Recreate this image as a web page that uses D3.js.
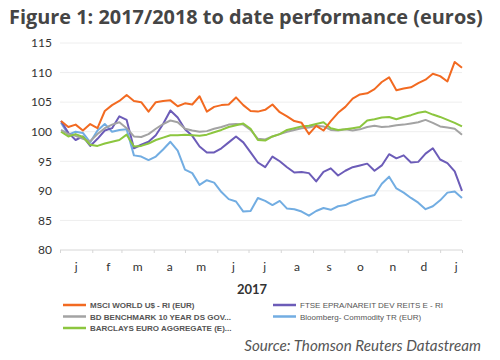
<!DOCTYPE html>
<html>
<head>
<meta charset="utf-8">
<script src="https://cdn.jsdelivr.net/npm/d3@7"></script>
<style>
  body { margin: 0; background: #fff; }
  svg { display: block; font-family: "Open Sans", "Liberation Sans", sans-serif; }
</style>
</head>
<body>
<svg id="chart" width="500" height="360"></svg>
<script>
  // weekly observations, first Monday of 2017 onwards
  var startDate = "2017-01-02";
  var nWeeks = 56;

  var msci = [101.8, 100.8, 101.2, 100.2, 101.3, 100.6, 103.5, 104.5, 105.2, 106.2,
    105.2, 105, 103.4, 105, 105.2, 105.3, 104.3, 104.8, 104.6, 106,
    103.4, 104.2, 104.5, 104.6, 105.8, 104.5, 103.5, 103.4, 103.7, 104.6,
    103.3, 102.6, 101.8, 101.5, 99.6, 101, 100.2, 101.8, 103.2, 104.2,
    105.6, 106.3, 106.5, 107.2, 108.4, 109.2, 107, 107.3, 107.5, 108.2,
    108.8, 109.8, 109.4, 108.5, 111.8, 110.8];

  var bdBench = [100.3, 99.6, 99.3, 98.8, 98.4, 99.6, 100.6, 101.2, 101.6, 100.6,
    99.2, 99.1, 99.6, 100.5, 101.3, 101.9, 101.6, 100.5, 100.2, 100,
    100.1, 100.5, 100.8, 101.2, 101.3, 101.2, 100.3, 98.8, 98.7, 99.2,
    99.6, 100, 100.3, 100.6, 100.7, 101, 100.9, 100.3, 100.2, 100.4,
    100.2, 100.4, 100.8, 101, 100.8, 100.9, 101.1, 101.2, 101.4, 101.6,
    102, 101.5, 100.9, 100.7, 100.5, 99.5];

  var barclays = [100, 99.2, 99.6, 99.1, 97.8, 97.6, 98, 98.3, 98.6, 99.5,
    97.5, 97.6, 98, 98.6, 99, 99.4, 99.4, 99.5, 99.4, 99.3,
    99.5, 99.9, 100.3, 100.8, 101.1, 101.4, 100.5, 98.6, 98.5, 99.2,
    99.6, 100.3, 100.6, 100.9, 101, 101.3, 101.6, 100.6, 100.3, 100.4,
    100.6, 100.8, 101.9, 102.1, 102.4, 102.5, 102.1, 102.5, 102.8, 103.2,
    103.4, 102.9, 102.5, 102, 101.5, 100.9];

  var ftse = [101.8, 99.8, 98.6, 99.2, 97.6, 98.8, 100.2, 100.6, 102.6, 102,
    97.2, 97.8, 98.3, 99.4, 101.3, 103.6, 102.4, 100.4, 99.3, 97.5,
    96.5, 96.5, 97.2, 98.2, 99.2, 98.2, 96.5, 94.8, 94, 95.8,
    95, 94, 93.1, 93.2, 93, 91.6, 93.2, 93.8, 92.6, 93.4,
    94, 94.3, 94.6, 93.4, 94.3, 96.2, 95.5, 96, 94.8, 94.9,
    96.3, 97.2, 95.3, 94.7, 93.3, 90];

  var bloomberg = [101.5, 99.5, 100, 99.8, 98.2, 100.2, 101.3, 100, 100.3, 100.4,
    96, 95.8, 95.2, 95.8, 97, 98.3, 96.8, 93.6, 93, 91,
    91.8, 91.4, 89.8, 88.6, 88.2, 86.5, 86.6, 88.8, 88.3, 87.6,
    88.3, 87, 86.9, 86.5, 85.8, 86.6, 87.1, 86.8, 87.4, 87.6,
    88.2, 88.6, 89, 89.3, 91.2, 92.4, 90.4, 89.7, 88.8, 88,
    86.9, 87.4, 88.4, 89.7, 89.9, 88.8];

  var seriesNames = ["MSCI WORLD U$ - RI (EUR)", "FTSE EPRA/NAREIT DEV REITS E - RI",
    "BD BENCHMARK 10 YEAR DS GOV...", "Bloomberg- Commodity TR (EUR)",
    "BARCLAYS EURO AGGREGATE (E)..."];
  var seriesValues = [msci, ftse, bdBench, bloomberg, barclays];
  var seriesColors = ["#f26a21", "#6c5cb8", "#a3a3a3", "#72ade2", "#8cc63f"];
  // draw order (back to front)
  var drawOrder = [3, 1, 2, 4, 0];

  var yTicks = [80, 85, 90, 95, 100, 105, 110, 115];
  var monthLetters = ["j", "f", "m", "a", "m", "j", "j", "a", "s", "o", "n", "d", "j"];

  var svg = d3.select("#chart");
  var parse = d3.timeParse("%Y-%m-%d");
  var d0 = parse(startDate);
  var dates = d3.range(nWeeks).map(function(i) { return d3.timeDay.offset(d0, 7 * i); });

  var x = d3.scaleTime().domain([parse("2017-01-01"), parse("2018-01-22")]).range([60, 462]);
  var y = d3.scaleLinear().domain([80, 115]).range([250, 43]);

  svg.append("text").attr("x", 9).attr("y", 24)
    .attr("font-size", 19.9).attr("font-weight", "bold").attr("fill", "#454545")
    .text("Figure 1: 2017/2018 to date performance (euros)");

  // grid
  svg.append("g").selectAll("line").data(yTicks).enter().append("line")
    .attr("x1", 60).attr("x2", 462)
    .attr("y1", function(d) { return y(d); }).attr("y2", function(d) { return y(d); })
    .attr("stroke", function(d) { return d === 80 ? "#d6d6d6" : "#eeeeee"; })
    .attr("stroke-width", 1);

  var yAxis = d3.axisLeft(y).tickValues(yTicks).tickSize(0).tickPadding(8);
  svg.append("g").attr("transform", "translate(60,0)").call(yAxis)
    .call(function(g) { g.select(".domain").remove(); })
    .selectAll("text").attr("font-size", 12).attr("fill", "#333")
    .attr("font-family", "Lato, 'Open Sans', sans-serif");

  // month boundary ticks
  var monthStarts = d3.timeMonth.range(parse("2017-01-01"), parse("2018-01-22"));
  var tickAxis = d3.axisBottom(x).tickValues(monthStarts.concat([parse("2018-01-22")])).tickSize(3).tickFormat("");
  svg.append("g").attr("transform", "translate(0,250)").call(tickAxis)
    .call(function(g) {
      g.select(".domain").remove();
      g.selectAll("line").attr("stroke", "#d6d6d6");
    });

  var mids = monthStarts.map(function(m) { return d3.timeDay.offset(m, 15); });
  var labelAxis = d3.axisBottom(x).tickValues(mids).tickSize(0).tickPadding(12)
    .tickFormat(function(d, i) { return monthLetters[i]; });
  svg.append("g").attr("transform", "translate(0,250)").call(labelAxis)
    .call(function(g) { g.select(".domain").remove(); })
    .selectAll("text").attr("font-size", 12).attr("fill", "#333")
    .attr("font-family", "Lato, 'Open Sans', sans-serif");

  svg.append("text").attr("x", 252).attr("y", 294).attr("text-anchor", "middle")
    .attr("font-size", 13).attr("font-weight", "bold").attr("fill", "#333")
    .attr("font-family", "Lato, 'Open Sans', sans-serif")
    .text("2017");

  var line = d3.line()
    .x(function(d, i) { return x(dates[i]); })
    .y(function(d) { return y(d); });

  svg.append("g").selectAll("path").data(drawOrder).enter().append("path")
    .attr("d", function(k) { return line(seriesValues[k]); })
    .attr("fill", "none")
    .attr("stroke", function(k) { return seriesColors[k]; })
    .attr("stroke-width", 2)
    .attr("stroke-linejoin", "round");

  // legend
  var legend = svg.append("g").selectAll("g").data(seriesNames).enter().append("g")
    .attr("transform", function(d, i) {
      return "translate(" + (i % 2 === 0 ? 63 : 273) + "," + (305 + Math.floor(i / 2) * 11.5) + ")";
    });
  legend.append("line").attr("x1", 0).attr("x2", 23).attr("y1", 0).attr("y2", 0)
    .attr("stroke", function(d, i) { return seriesColors[i]; }).attr("stroke-width", 2.5);
  legend.append("text").attr("x", 27).attr("y", 3).attr("font-size", 8)
    .attr("font-weight", function(d, i) { return i % 2 === 0 ? "bold" : "normal"; })
    .attr("fill", "#555").attr("font-family", "'Liberation Sans', sans-serif")
    .text(function(d) { return d; });

  svg.append("text").attr("x", 481).attr("y", 351).attr("text-anchor", "end")
    .attr("font-size", 15.2).attr("font-style", "italic").attr("fill", "#555")
    .attr("font-family", "Lato, 'Open Sans', sans-serif")
    .text("Source: Thomson Reuters Datastream");
</script>
</body>
</html>
